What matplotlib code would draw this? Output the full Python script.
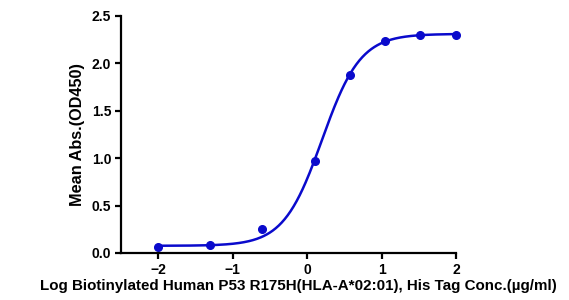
import numpy as np
import matplotlib.pyplot as plt

plt.rcParams['font.family'] = ['Liberation Sans', 'DejaVu Sans']
plt.rcParams['font.weight'] = 'bold'

# measured points (log10 concentration vs OD450)
log_conc = [-2.0, -1.3, -0.6, 0.1, 0.57, 1.05, 1.52, 2.0]
od450 = [0.06, 0.085, 0.25, 0.97, 1.88, 2.23, 2.30, 2.30]

# four-parameter logistic fit
bottom = 0.075
top = 2.31
log_ec50 = 0.2
hill = 1.68

xs = np.linspace(-2, 2, 300)
fit = bottom + (top - bottom) / (1 + 10 ** ((log_ec50 - xs) * hill))

fig = plt.figure(figsize=(5.69, 3.0), dpi=100)
ax = fig.add_axes([0.2127, 0.157, 0.5887, 0.79])

color = '#0a0acc'
ax.plot(xs, fit, color=color, lw=1.8, clip_on=False)
ax.plot(log_conc, od450, 'o', color=color, ms=5.5, clip_on=False)

ax.set_xlim(-2.5, 2)
ax.set_ylim(0, 2.5)
ax.set_xticks([-2, -1, 0, 1, 2])
ax.set_yticks([0, 0.5, 1.0, 1.5, 2.0, 2.5])
ax.set_yticklabels(['0.0', '0.5', '1.0', '1.5', '2.0', '2.5'])

for s in ['top', 'right']:
    ax.spines[s].set_visible(False)
for s in ['left', 'bottom']:
    ax.spines[s].set_linewidth(1.6)
ax.tick_params(width=1.6, length=4.5, labelsize=10, pad=2.5)
for lab in ax.get_xticklabels() + ax.get_yticklabels():
    lab.set_fontweight('bold')

ax.set_ylabel('Mean Abs.(OD450)', fontsize=11.7, fontweight='bold', labelpad=5)
ax.set_xlabel('Log Biotinylated Human P53 R175H(HLA-A*02:01), His Tag Conc.(\u00b5g/ml)',
              fontsize=10.9, fontweight='bold')
ax.xaxis.set_label_coords(0.53, -0.112)

fig.savefig('out.png', dpi=100)
